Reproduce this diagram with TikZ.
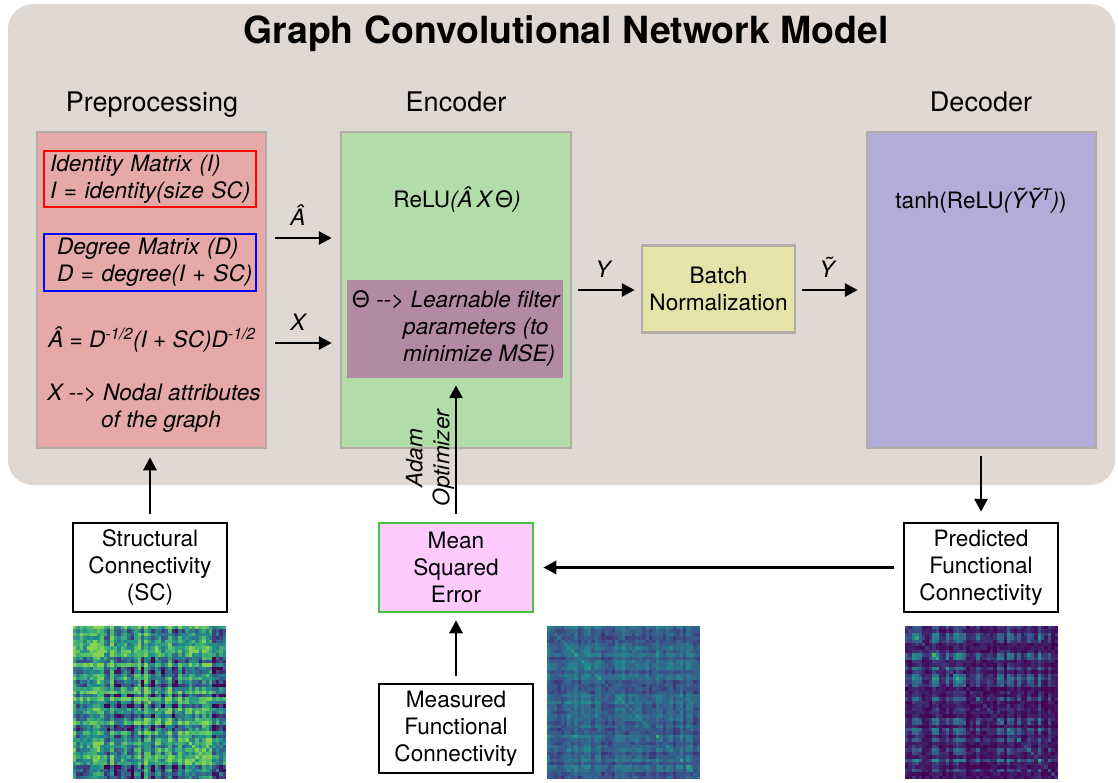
\documentclass[tikz,border=0pt]{standalone}
\usepackage{fontspec}
\setmainfont{TeX Gyre Heros}
\usetikzlibrary{arrows.meta}
\definecolor{bgc}{HTML}{E0D8D2}
\definecolor{boxgray}{HTML}{B3ABA5}
\definecolor{prepc}{HTML}{E5AAA7}
\definecolor{encc}{HTML}{B3DDA8}
\definecolor{purc}{HTML}{B38AA6}
\definecolor{batc}{HTML}{E6E2A8}
\definecolor{decc}{HTML}{B2ACD9}
\definecolor{msec}{HTML}{FFCBFF}
\definecolor{mseb}{HTML}{3EC43E}
\definecolor{vir0}{HTML}{440154}
\definecolor{vir1}{HTML}{3B528B}
\definecolor{vir2}{HTML}{21908C}
\definecolor{vir3}{HTML}{5DC863}
\definecolor{vir4}{HTML}{FDE725}
\newcommand\bodyfs{\fontsize{22.6}{27}\selectfont}
\newcommand\secfs{\fontsize{27}{32}\selectfont}
\def\hmdiag{0.25}
\def\hmcap{0.999}
% #1 x0, #2 y0, #3 base, #4 band amp, #5 power, #6 noise amp, #7 seed, #8 block amp
\newcommand\heatmap[8]{%
 \foreach \i in {0,...,44}{%
  \foreach \j in {0,...,44}{%
   \pgfmathsetmacro\ri{frac(abs(sin(\i*71.3+#7)*173.1))}%
   \pgfmathsetmacro\rj{frac(abs(sin(\j*71.3+#7)*173.1))}%
   \pgfmathsetmacro\nn{frac(abs(sin((\i+\j)*37.3+abs(\i-\j)*91.7+#7)*437.585))}%
   \pgfmathsetmacro\tval{max(0,min(\hmcap,#3+#4*(((\ri+\rj)/2)^#5)+#6*(\nn-0.5)+(\i==\j)*\hmdiag+#8*((\i<22)==(\j<22))))}%
   \pgfmathtruncatemacro\seg{floor(\tval*4)}%
   \pgfmathtruncatemacro\pct{(\tval*4-\seg)*100}%
   \pgfmathtruncatemacro\segn{\seg+1}%
   \fill[vir\segn!\pct!vir\seg] (#1+\i*3.4,#2+\j*3.4) rectangle ++(3.5,3.5);
  }}}
\begin{document}
\begin{tikzpicture}[x=1pt,y=-1pt,
  sect/.style={draw=boxgray,line width=2.5pt,inner sep=0pt},
  bbox/.style={draw=black,line width=2.5pt,fill=white,minimum width=154pt,minimum height=89pt,align=center,inner sep=0pt,font=\bodyfs},
  arr/.style={line width=2.8pt,-{Triangle[length=13pt,width=13pt]}},
  lab/.style={font=\bodyfs,inner sep=0pt},
  sec/.style={font=\secfs,inner sep=0pt,anchor=base}]
\useasboundingbox (0,0) rectangle (1118,782);
\fill[white] (0,0) rectangle (1118,782);
\fill[bgc,rounded corners=25pt] (8,4) rectangle (1115,485);

\node[font=\fontsize{37.4}{44}\selectfont\bfseries,inner sep=0pt,anchor=base] (title) at (566,43) {Graph Convolutional Network Model};
\node[sec] (secp) at (152,111) {Preprocessing};
\node[sec] (sece) at (456,111) {Encoder};
\node[sec] (secd) at (981,111) {Decoder};

% main boxes
\node[sect,fill=prepc,minimum width=229pt,minimum height=316pt] (prep) at (151.5,290) {};
\node[sect,fill=encc,minimum width=230pt,minimum height=316pt] (enc) at (456,290) {};
\node[sect,fill=decc,minimum width=229pt,minimum height=316pt] (dec) at (981.5,290) {};
\node[sect,fill=batc,minimum width=153pt,minimum height=87pt,font=\bodyfs,align=center] (bat) at (718.5,289) {Batch\\Normalization};

% preprocessing contents
\node[draw=red,line width=1.2pt,text width=208pt,inner xsep=2pt,inner ysep=0pt,minimum height=56pt,align=left,font=\bodyfs\itshape] (idm) at (150,179) {\hspace*{4pt}Identity Matrix (I)\\\hspace*{4pt}I = identity(size SC)};
\node[draw=blue,line width=1.2pt,text width=208pt,inner xsep=2pt,inner ysep=0pt,minimum height=57pt,align=left,font=\bodyfs\itshape] (degm) at (150,262.5) {\hspace*{11pt}Degree Matrix (D)\\\hspace*{11pt}D = degree(I + SC)};
\node[lab,font=\bodyfs\itshape,anchor=base] (ahat) at (152,347) {Â = D\textsuperscript{-1/2}(I + SC)D\textsuperscript{-1/2}};
\node[lab,font=\bodyfs\itshape,align=center] (xdef) at (154,408) {X {-}{-}> Nodal attributes\\\hspace*{14pt}of the graph};

% encoder contents
\node[lab,anchor=base] (relu) at (457,207) {ReLU\textit{(Â\,X\,\textup{Θ})}};
\node[fill=purc,minimum width=216pt,minimum height=98pt,inner sep=0pt] (pur) at (455,329) {};
\node[lab,font=\bodyfs\itshape,align=left,anchor=north west,text depth=0pt] (purt) at (352,290) {\fontsize{22.6}{26.2}\selectfont\textup{Θ} {-}{-}> Learnable filter\\\hspace*{51pt}parameters (to\\\hspace*{51pt}minimize MSE)};

% decoder contents
\node[lab,anchor=base] (tanh) at (981,208) {tanh(ReLU\textit{(ỸỸ\textsuperscript{T})})};

% lower boxes
\node[bbox] (sc) at (150,567.5) {Structural\\Connectivity\\(SC)};
\node[bbox,draw=mseb,fill=msec] (mse) at (456,567.5) {Mean\\Squared\\Error};
\node[bbox] (meas) at (456,728.5) {Measured\\Functional\\Connectivity};
\node[bbox] (pred) at (981,567.5) {Predicted\\Functional\\Connectivity};

% arrows
\coordinate (yA) at (0,238);
\coordinate (yX) at (0,343);
\draw[arr,shorten <=8pt,shorten >=8pt] (prep.east |- yA) -- (enc.west |- yA);
\draw[arr,shorten <=8pt,shorten >=8pt] (prep.east |- yX) -- (enc.west |- yX);
\node[lab,font=\bodyfs\itshape,anchor=base] (lA) at (298,225) {Â};
\node[lab,font=\bodyfs\itshape,anchor=base] (lX) at (298,330) {X};
\draw[arr,shorten <=6pt,shorten >=6pt] (enc.east |- 0,290) -- (bat.west |- 0,290);
\draw[arr,shorten <=6pt,shorten >=8pt] (bat.east |- 0,290) -- (dec.west |- 0,290);
\node[lab,font=\bodyfs\itshape,anchor=base] (lY) at (603,277) {Y};
\node[lab,font=\bodyfs\itshape,anchor=base] (lYt) at (827,277) {Ỹ};
\draw[arr,shorten <=8pt,shorten >=8pt] (sc.north) -- (prep.south -| sc.north);
\draw[arr,shorten <=7pt,shorten >=10pt] (dec.south -| pred.north) -- (pred.north);
\draw[arr,shorten <=9pt,shorten >=9pt] (pred.west) -- (mse.east);
\draw[arr,shorten <=7pt,shorten >=7pt] (meas.north) -- (mse.south);
\draw[arr,shorten <=8pt,shorten >=7pt] (mse.north) -- (pur.south -| mse.north);
\node[lab,font=\bodyfs\itshape,rotate=90,align=center] (adam) at (430,458) {Adam\\Optimizer};

% heatmaps
\def\hmdiag{0.2}\def\hmcap{0.82}
\heatmap{73}{626}{-0.24}{1.05}{0.5}{0.38}{13}{0.06}
\def\hmdiag{0.1}\def\hmcap{0.999}
\heatmap{547}{626}{0.22}{0.25}{1.5}{0.14}{29}{0.0}
\def\hmdiag{0.12}\def\hmcap{0.999}
\heatmap{905}{626}{0.04}{0.55}{3}{0.14}{47}{0.0}
\end{tikzpicture}
\end{document}
